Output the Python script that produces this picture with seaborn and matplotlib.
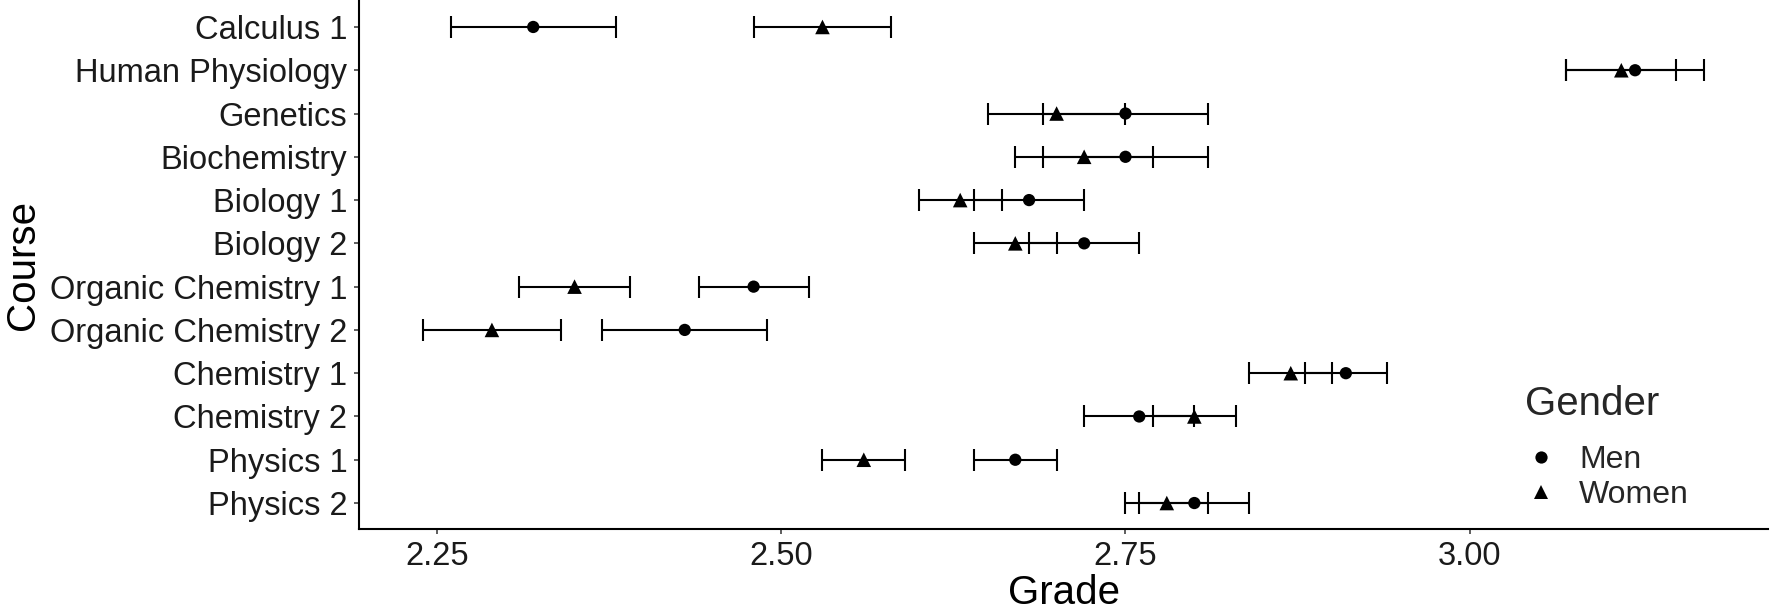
import numpy as np
import pandas as pd
import matplotlib
matplotlib.use("Agg")
import matplotlib.pyplot as plt
import seaborn as sns
from matplotlib.lines import Line2D

# ---------------- data ----------------
courses = ["Calculus 1", "Human Physiology", "Genetics", "Biochemistry",
           "Biology 1", "Biology 2", "Organic Chemistry 1", "Organic Chemistry 2",
           "Chemistry 1", "Chemistry 2", "Physics 1", "Physics 2"]
men_mean = [2.32, 3.12, 2.75, 2.75, 2.68, 2.72, 2.48, 2.43, 2.91, 2.76, 2.67, 2.80]
men_lo   = [2.26, 3.07, 2.69, 2.69, 2.64, 2.68, 2.44, 2.37, 2.88, 2.72, 2.64, 2.76]
men_hi   = [2.38, 3.17, 2.81, 2.81, 2.72, 2.76, 2.52, 2.49, 2.94, 2.80, 2.70, 2.84]
women_mean = [2.53, 3.11, 2.70, 2.72, 2.63, 2.67, 2.35, 2.29, 2.87, 2.80, 2.56, 2.78]
women_lo   = [2.48, 3.07, 2.65, 2.67, 2.60, 2.64, 2.31, 2.24, 2.84, 2.77, 2.53, 2.75]
women_hi   = [2.58, 3.15, 2.75, 2.77, 2.66, 2.70, 2.39, 2.34, 2.90, 2.83, 2.59, 2.81]
genders = ["Men", "Women"]
x_ticks = [2.25, 2.50, 2.75, 3.00]

df = pd.concat([
    pd.DataFrame({"Course": courses, "Gender": "Men", "Grade": men_mean,
                  "Lower": men_lo, "Upper": men_hi}),
    pd.DataFrame({"Course": courses, "Gender": "Women", "Grade": women_mean,
                  "Lower": women_lo, "Upper": women_hi}),
], ignore_index=True)
pos = {c: i for i, c in enumerate(courses)}
df["pos"] = df["Course"].map(pos)

# ---------------- style ----------------
sns.set_theme(style="ticks")
plt.rcParams["font.family"] = ["Liberation Sans", "DejaVu Sans"]

W, H = 1770, 609
fig = plt.figure(figsize=(W / 100, H / 100), dpi=100)
ax = fig.add_axes([359 / W, 80 / H, 1409 / W, 528 / H])

# error bars
for g in genders:
    d = df[df["Gender"] == g]
    ax.errorbar(d["Grade"], d["pos"],
                xerr=[d["Grade"] - d["Lower"], d["Upper"] - d["Grade"]],
                fmt="none", ecolor="black", elinewidth=1.5,
                capsize=7.6, capthick=1.5, zorder=2)

# points
sns.scatterplot(data=df, x="Grade", y="pos", style="Gender",
                markers={"Men": "o", "Women": "^"},
                size="Gender", sizes={"Men": 78, "Women": 110},
                color="black", linewidth=0, legend=False, ax=ax, zorder=3)

# axes limits / ticks
lo_all = min(min(men_lo), min(women_lo))
hi_all = max(max(men_hi), max(women_hi))
rng = hi_all - lo_all
ax.set_xlim(lo_all - 0.05 * rng, hi_all + 0.05 * rng)
ax.set_ylim(len(courses) - 0.4, -0.6)
ax.set_xticks(x_ticks)
ax.set_xticklabels([f"{t:.2f}" for t in x_ticks])
ax.set_yticks(range(len(courses)))
ax.set_yticklabels(courses)

for side in ["top", "right"]:
    ax.spines[side].set_visible(False)
for side in ["left", "bottom"]:
    ax.spines[side].set_linewidth(1.5)
    ax.spines[side].set_color("black")

ax.tick_params(axis="both", which="major", length=3.3, width=1.1,
               color="#333333", labelsize=23.5, labelcolor="#1a1a1a")
ax.tick_params(axis="y", pad=5.0)
ax.tick_params(axis="x", pad=5.0)

ax.set_xlabel("Grade", fontsize=29, color="black")
ax.set_ylabel("Course", fontsize=29, color="black")
ax.xaxis.set_label_coords(0.5, -0.085)
ax.yaxis.set_label_coords(-0.2253, 0.5)

# legend
handles = [Line2D([], [], linestyle="none", marker="o", color="black",
                  markersize=8.8, markeredgewidth=0),
           Line2D([], [], linestyle="none", marker="^", color="black",
                  markersize=10.5, markeredgewidth=0)]
leg = ax.legend(handles, genders, title="Gender", frameon=False,
                loc="upper left", bbox_to_anchor=(1525 / W, 224 / H),
                bbox_transform=fig.transFigure, borderpad=0, borderaxespad=0,
                fontsize=23, title_fontsize=29, alignment="left",
                handlelength=1.0, handletextpad=0.7, labelspacing=0.15)
leg._legend_box.sep = 16

fig.savefig("out.png", dpi=100, facecolor="white")
